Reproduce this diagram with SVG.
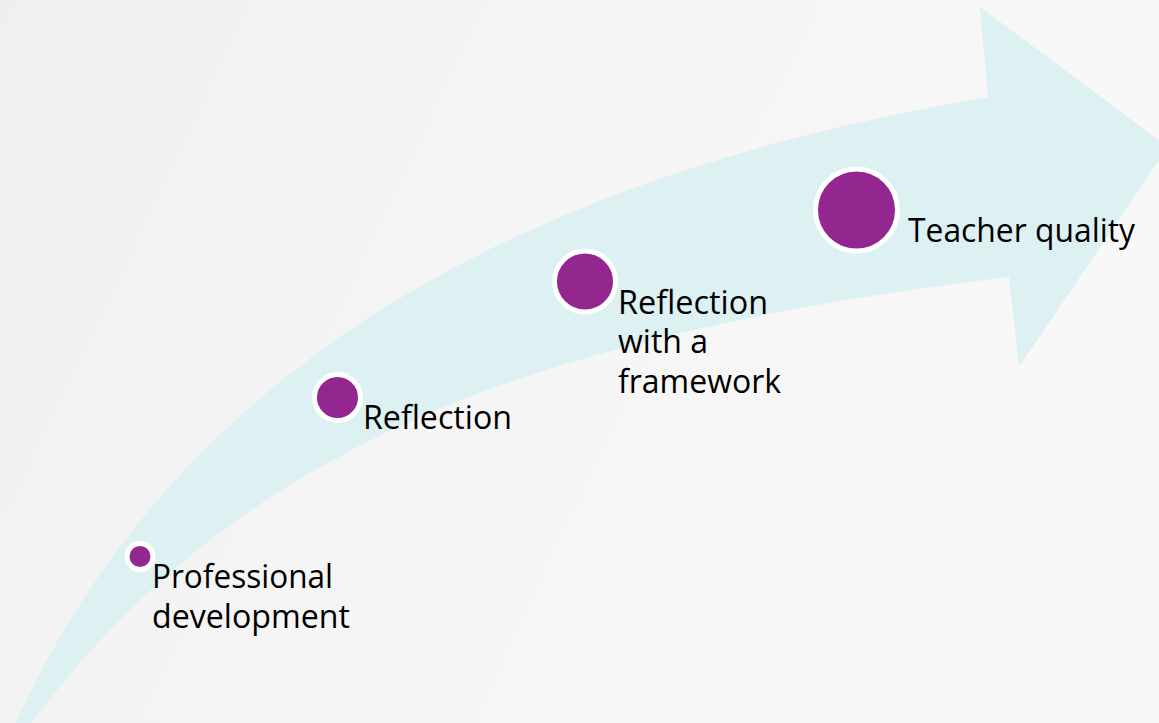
<svg xmlns="http://www.w3.org/2000/svg" width="1159" height="723" viewBox="0 0 1159 723">
  <defs>
    <linearGradient id="bg" x1="0" y1="0" x2="1" y2="0.3">
      <stop offset="0" stop-color="#efeff2"/>
      <stop offset="0.5" stop-color="#f5f5f5"/>
      <stop offset="1" stop-color="#f8f8f8"/>
    </linearGradient>
  </defs>
  <style>
    .dot { fill: #93278f; stroke: #ffffff; stroke-width: 5; }
    .lbl { font-family: "Open Sans", "Liberation Sans", sans-serif; font-size: 32px; fill: #000000; }
  </style>
  <rect x="0" y="0" width="1159" height="723" fill="url(#bg)"/>
  <g id="arrow">
    <path d="M15,725 C170,380 500,180 988,97 L980,7 L1168,147 L1019,367 L1009,277 C509,337 230,457 30,725 Z" fill="#ddf0f2"/>
  </g>
  <g id="node-professional-development">
    <circle class="dot" cx="140" cy="556.5" r="13"/>
    <text class="lbl" x="152" y="588" textLength="181" lengthAdjust="spacingAndGlyphs">Professional</text>
    <text class="lbl" x="152" y="628" textLength="198" lengthAdjust="spacingAndGlyphs">development</text>
  </g>
  <g id="node-reflection">
    <circle class="dot" cx="337.5" cy="397.5" r="23"/>
    <text class="lbl" x="363" y="429" textLength="149" lengthAdjust="spacingAndGlyphs">Reflection</text>
  </g>
  <g id="node-reflection-framework">
    <circle class="dot" cx="585" cy="281.5" r="30.5"/>
    <text class="lbl" x="618" y="314" textLength="150" lengthAdjust="spacingAndGlyphs">Reflection</text>
    <text class="lbl" x="618" y="353" textLength="90" lengthAdjust="spacingAndGlyphs">with a</text>
    <text class="lbl" x="618" y="393" textLength="163" lengthAdjust="spacingAndGlyphs">framework</text>
  </g>
  <g id="node-teacher-quality">
    <circle class="dot" cx="856.5" cy="210" r="41"/>
    <text class="lbl" x="908" y="242" textLength="227" lengthAdjust="spacingAndGlyphs">Teacher quality</text>
  </g>
</svg>
